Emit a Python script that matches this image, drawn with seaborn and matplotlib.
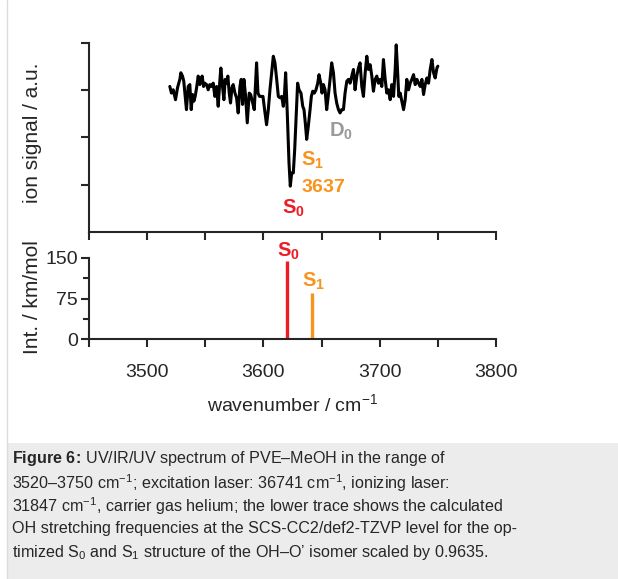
import matplotlib
matplotlib.use("Agg")
import matplotlib.pyplot as plt
import seaborn as sns
import pandas as pd
from matplotlib.patches import Rectangle
from matplotlib.lines import Line2D

# ---------------- data ----------------
wavenumber = [3519.5, 3520.9, 3522.4, 3524.4, 3526.1, 3528.1, 3529.0, 3530.4, 3531.5, 3532.7,
              3533.8, 3535.3, 3536.7, 3537.9, 3539.0, 3540.2, 3541.3, 3542.5, 3543.9, 3545.3,
              3546.2, 3547.3, 3548.5, 3549.6, 3551.1, 3552.5, 3553.9, 3555.4, 3556.8, 3558.2,
              3559.7, 3561.1, 3562.6, 3563.4, 3564.8, 3566.0, 3567.1, 3568.3, 3569.4, 3570.6,
              3571.7, 3572.9, 3574.0, 3575.5, 3576.9, 3578.3, 3579.8, 3580.9, 3582.1, 3583.2,
              3584.7, 3586.1, 3587.8, 3589.0, 3590.4, 3592.1, 3593.3, 3594.1, 3595.3, 3596.7,
              3598.2, 3599.6, 3601.0, 3602.7, 3604.2, 3605.6, 3607.1, 3608.5, 3609.9, 3611.4,
              3612.8, 3614.2, 3615.7, 3617.1, 3618.0, 3619.1, 3620.5, 3622.0, 3623.1, 3624.3,
              3625.7, 3626.9, 3628.3, 3629.4, 3630.6, 3632.3, 3633.8, 3634.9, 3636.0, 3637.2,
              3638.6, 3640.1, 3641.2, 3642.4, 3643.8, 3645.2, 3646.7, 3647.8, 3649.3, 3650.4,
              3651.6, 3653.0, 3654.4, 3655.9, 3657.3, 3658.7, 3660.2, 3661.6, 3663.0, 3664.5,
              3665.9, 3667.3, 3668.8, 3670.2, 3671.7, 3673.1, 3674.5, 3676.0, 3677.4, 3678.8,
              3680.3, 3681.7, 3683.1, 3684.6, 3686.0, 3687.5, 3688.9, 3690.3, 3691.8, 3693.2,
              3694.6, 3696.1, 3697.5, 3698.9, 3700.4, 3701.8, 3703.2, 3704.7, 3706.1, 3707.5,
              3709.0, 3710.4, 3711.9, 3713.3, 3714.2, 3715.3, 3716.4, 3717.6, 3719.0, 3720.5,
              3721.9, 3723.3, 3724.8, 3726.2, 3727.6, 3729.1, 3730.5, 3732.0, 3733.4, 3734.8,
              3736.3, 3737.7, 3739.1, 3740.6, 3742.0, 3743.4, 3744.9, 3746.3, 3747.7, 3749.2,
              3750.0]
ion_signal = [3.08, 2.94, 3.01, 2.80, 3.05, 3.23, 3.37, 3.30, 3.19, 2.87,
              2.59, 3.08, 3.12, 2.59, 2.91, 2.77, 2.87, 3.05, 3.30, 3.12,
              3.23, 3.30, 3.08, 3.15, 3.12, 3.01, 3.12, 3.08, 3.15, 2.87,
              3.08, 2.66, 3.23, 3.47, 3.08, 2.80, 3.23, 3.15, 3.30, 2.94,
              2.73, 3.05, 3.12, 2.94, 2.84, 2.52, 3.08, 3.23, 2.70, 3.23,
              2.87, 2.31, 2.94, 2.91, 2.77, 2.59, 3.19, 3.58, 2.94, 2.87,
              2.87, 2.87, 2.59, 2.27, 2.59, 3.01, 3.37, 3.72, 3.58, 3.23,
              2.87, 2.84, 2.87, 2.66, 2.87, 3.37, 2.52, 1.46, 0.97, 1.25,
              1.25, 1.75, 2.52, 3.15, 3.01, 2.94, 2.66, 2.59, 2.31, 1.96,
              2.24, 2.59, 2.87, 2.98, 2.94, 3.01, 3.15, 3.33, 3.15, 2.94,
              3.12, 3.01, 2.59, 2.91, 3.23, 3.58, 3.37, 2.94, 2.73, 2.59,
              2.52, 2.59, 2.59, 2.94, 3.19, 3.23, 3.15, 3.30, 3.44, 3.01,
              3.30, 3.47, 3.58, 3.08, 2.87, 3.37, 3.72, 3.44, 3.54, 3.30,
              2.98, 3.23, 3.30, 3.15, 3.23, 3.08, 3.65, 3.23, 2.94, 3.01,
              2.80, 3.12, 2.87, 3.44, 3.96, 3.44, 2.87, 2.94, 2.77, 2.59,
              2.80, 3.23, 3.01, 3.15, 3.23, 3.33, 3.12, 3.23, 3.15, 3.08,
              3.23, 2.91, 3.12, 3.26, 3.15, 3.44, 3.65, 3.37, 3.26, 3.47,
              3.51]

stick_states = ["S0", "S1"]
stick_wavenumber = [3620, 3642]
stick_intensity = [145, 86]

x_major_ticks = [3500, 3600, 3700, 3800]
x_minor_ticks = [3450, 3550, 3650, 3750]
int_ticks = [0, 75, 150]
int_minor_ticks = [37.5, 112.5]
signal_ticks = [1, 2, 3, 4]

caption_lines = [
    r"$\mathbf{Figure\ 6\!:}\,$UV/IR/UV spectrum of PVE–MeOH in the range of",
    r"3520–3750 cm$^{-1}$; excitation laser: 36741 cm$^{-1}$, ionizing laser:",
    r"31847 cm$^{-1}$, carrier gas helium; the lower trace shows the calculated",
    "OH stretching frequencies at the SCS-CC2/def2-TZVP level for the op-",
    r"timized S$_0$ and S$_1$ structure of the OH–O’ isomer scaled by 0.9635.",
]

RED = "#ee1c24"
ORANGE = "#f7941d"
GRAY = "#9a9a9a"

# ---------------- style ----------------
sns.set_style("ticks")
plt.rcParams["font.family"] = ["Liberation Sans", "DejaVu Sans"]
plt.rcParams["mathtext.fontset"] = "custom"
plt.rcParams["mathtext.rm"] = "Liberation Sans"
plt.rcParams["mathtext.it"] = "Liberation Sans:italic"
plt.rcParams["mathtext.bf"] = "Liberation Sans:bold"
plt.rcParams["axes.linewidth"] = 1.5

W, H = 618, 579
fig = plt.figure(figsize=(W / 100, H / 100), dpi=100)

# caption background and left border
fig.patches.append(Rectangle((7 / W, 0), 1 - 7 / W, 1 - 443 / H, transform=fig.transFigure,
                             facecolor="#ececec", edgecolor="none", zorder=0))
fig.lines.append(Line2D([7 / W, 7 / W], [0, 1], transform=fig.transFigure,
                        color="#dcdcdc", linewidth=1.0))

# ---------------- top panel ----------------
ax1 = fig.add_axes([89 / W, 1 - 232 / H, 407 / W, 189 / H])
df = pd.DataFrame({"wavenumber": wavenumber, "signal": ion_signal})
sns.lineplot(data=df, x="wavenumber", y="signal", ax=ax1, color="black",
             linewidth=2.2, sort=False, estimator=None)
ax1.set_xlim(3450, 3800)
ax1.set_ylim(0, 4)
ax1.set_xticks(x_major_ticks + x_minor_ticks)
ax1.set_xticklabels([])
ax1.set_yticks(signal_ticks)
ax1.set_yticklabels([])
ax1.set_xlabel("")
ax1.set_ylabel("")
ax1.tick_params(direction="out", length=6, width=1.5)
for s in ["top", "right"]:
    ax1.spines[s].set_visible(False)
fig.text(33 / W, 1 - 133 / H, "ion signal / a.u.", rotation=90, ha="center", va="center",
         fontsize=15)

ax1.text(3667, 2.12, r"$\mathbf{D}_{\mathbf{0}}$", color=GRAY, ha="center", va="center",
         fontsize=14.5)
ax1.text(3642, 1.52, r"$\mathbf{S}_{\mathbf{1}}$", color=ORANGE, ha="center", va="center",
         fontsize=14.5)
ax1.text(3651.2, 0.95, r"$\mathbf{3637}$", color=ORANGE, ha="center", va="center",
         fontsize=14)
ax1.text(3625.4, 0.51, r"$\mathbf{S}_{\mathbf{0}}$", color=RED, ha="center", va="center",
         fontsize=14.5, clip_on=False)

# ---------------- bottom panel ----------------
ax2 = fig.add_axes([89 / W, 1 - 339 / H, 407 / W, 81 / H])
stick_colors = [RED, ORANGE]
ax2.vlines(stick_wavenumber, 0, stick_intensity, colors=stick_colors, linewidth=2.4)
ax2.set_xlim(3450, 3800)
ax2.set_ylim(0, 150)
ax2.set_xticks(x_major_ticks)
ax2.set_xticks(x_minor_ticks, minor=True)
ax2.set_yticks(int_ticks)
ax2.set_yticks(int_minor_ticks, minor=True)
ax2.tick_params(axis="both", which="major", direction="out", length=6, width=1.5,
                labelsize=14, pad=2)
ax2.tick_params(axis="x", which="minor", direction="out", length=6, width=1.5)
ax2.tick_params(axis="y", which="minor", direction="out", length=4, width=1.5)
ax2.tick_params(axis="x", which="major", pad=12)
for s in ["top", "right"]:
    ax2.spines[s].set_visible(False)
ax2.set_xlabel(r"wavenumber / cm$^{-1}$", fontsize=14, labelpad=9)
fig.text(33 / W, 1 - 297 / H, "Int. / km/mol", rotation=90, ha="center", va="center",
         fontsize=15)

ax2.text(3621.1, 163, r"$\mathbf{S}_{\mathbf{0}}$", color=RED, ha="center", va="center",
         fontsize=14.5, clip_on=False)
ax2.text(3643.5, 107, r"$\mathbf{S}_{\mathbf{1}}$", color=ORANGE, ha="center", va="center",
         fontsize=14.5, clip_on=False)

# ---------------- caption ----------------
caption_y = [458, 483, 506, 529, 552]
for line, yy in zip(caption_lines, caption_y):
    fig.text(12 / W, 1 - yy / H, line, ha="left", va="center", fontsize=11.6)

fig.savefig("out.png", dpi=100)
